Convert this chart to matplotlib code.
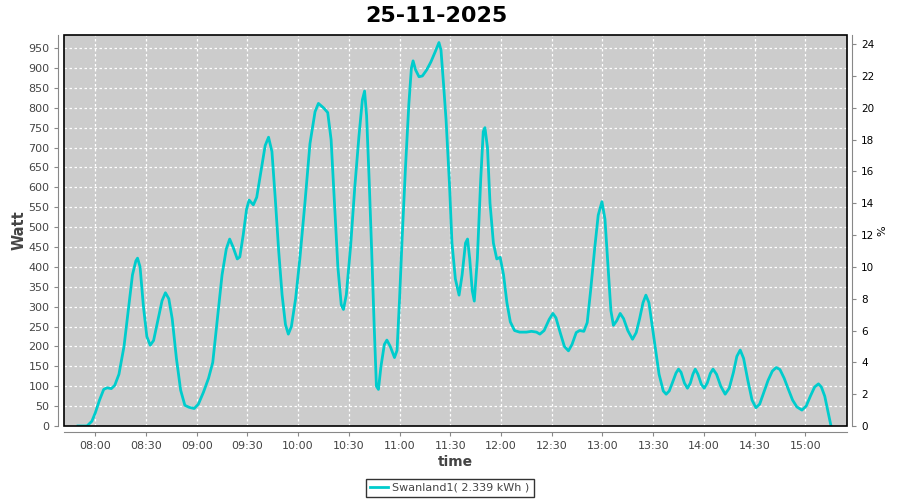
import numpy as np
import matplotlib
matplotlib.use("Agg")
import matplotlib.pyplot as plt
import matplotlib.dates as mdates
from matplotlib.patches import Rectangle

title = "25-11-2025"
series_name = "Swanland1( 2.339 kWh )"

# minutes after 08:00 and power in W
minutes = [-10.2, -4.9, -2, 0, 2.5, 5, 7, 9.5, 11.5, 14, 17, 19.5, 22, 24, 25, 26.5,
           28.5, 30.5, 32.5, 34.5, 37, 39.5, 41.5, 43.5, 45.5, 48, 50.5, 53, 55.5,
           58.5, 61, 64, 67, 69.5, 71.5, 73, 75, 77.5, 79.5, 81.5, 84, 85.5, 87.5,
           89.5, 91, 93.5, 95.5, 98, 100.5, 102.5, 104.5, 106.5, 108.5, 110.5,
           112.5, 114.2, 116, 118.5, 121, 124, 127, 130, 132, 135, 137.5, 139.5,
           141.5, 143.5, 145.5, 146.8, 148.5, 151, 153.5, 156, 158, 159.3, 160.5,
           162, 163.5, 165, 166.3, 167.5, 169, 171, 172.5, 174.5, 177, 178.5, 180,
           181.5, 183.5, 185.5, 187, 188, 189.5, 191.5, 193.5, 196, 198.5, 201,
           203.3, 204.5, 206, 207.5, 209.5, 211, 213, 215.2, 217, 219, 220.2,
           221.5, 223, 224.2, 226, 228, 229.5, 230.5, 232, 233.5, 235.5, 237.5,
           239.5, 241.5, 243.5, 245.5, 248, 251, 255, 258, 261, 263, 265.5, 268.5,
           270.7, 272.5, 275, 277.5, 279.9, 282, 284.5, 286.5, 289, 291, 293,
           295.5, 297.5, 299.7, 301.5, 303.5, 305, 306.5, 308.5, 310.5, 312.5,
           315, 317.8, 320, 322, 324, 325.7, 327.5, 329.5, 331.5, 333.5, 336,
           337.7, 339.5, 341.5, 343.5, 345, 346.5, 348.5, 350.3, 352, 353.5,
           354.9, 356.5, 358.5, 360.2, 362, 363.8, 365.4, 367.5, 370, 372.6, 375,
           377.5, 379.5, 381.5, 383.5, 386, 388.5, 390.8, 393, 395.5, 398, 400.5,
           402.8, 405, 407.5, 410, 412.5, 415, 418, 420.5, 423, 425.5, 427.8,
           429.5, 431.5, 433.5, 435.2]
watt = [0, 0, 12, 33, 65, 92, 96, 94, 102, 130, 200, 290, 380, 415, 422, 400,
        300, 225, 203, 215, 265, 315, 335, 320, 270, 170, 90, 52, 47,
        44, 55, 85, 120, 160, 240, 300, 380, 445, 470, 450, 420, 425, 480,
        545, 568, 556, 575, 640, 705, 726, 690, 570, 440, 330,
        255, 231, 250, 320, 420, 560, 710, 790, 811, 800, 788, 720,
        560, 400, 305, 293, 330, 450, 600, 730, 820, 842, 780,
        620, 440, 250, 100, 92, 150, 205, 216, 200, 172, 190, 320,
        470, 650, 810, 900, 918, 895, 878, 880, 895, 915, 940,
        964, 945, 860, 770, 610, 460, 370, 329, 380, 460, 470,
        420, 340, 314, 420, 620, 740, 750, 700, 560, 460, 420,
        424, 380, 310, 262, 240, 236, 236, 238, 236, 231, 240, 268,
        283, 272, 235, 200, 189, 205, 235, 240, 238, 260, 340,
        450, 530, 564, 520, 390, 290, 253, 265, 283, 270,
        240, 218, 235, 270, 310, 329, 310, 250, 190, 130, 88,
        80, 88, 110, 133, 143, 135, 108, 95, 108, 130,
        143, 130, 105, 95, 108, 132, 143, 130, 100, 80, 95,
        135, 175, 191, 170, 115, 65, 46, 55, 85, 115, 138,
        147, 142, 120, 92, 65, 48, 40, 50, 75, 98, 106,
        98, 75, 35, 0]

watt_ticks = np.arange(0, 951, 50)
pct_ticks = np.arange(0, 25, 2)

base = np.datetime64("2025-11-25T08:00:00")
times = base + (np.array(minutes) * 60).astype("timedelta64[s]")

grey_txt = "#444444"
axis_grey = "#888888"

fig = plt.figure(figsize=(9, 5), dpi=100)
ax = fig.add_axes([0.0711, 0.148, 0.8697, 0.782])
ax.set_facecolor("#cccccc")

ax.plot(times, watt, color="#00cccc", lw=2, zorder=3, label=series_name)

ax.set_ylim(0, 983)
ax.set_yticks(watt_ticks)
ax.set_xlim(base - np.timedelta64(1110, "s"), base + np.timedelta64(7 * 3600 + 1470, "s"))
ax.xaxis.set_major_locator(mdates.MinuteLocator(byminute=[0, 30]))
ax.xaxis.set_major_formatter(mdates.DateFormatter("%H:%M"))

ax.grid(True, color="white", ls=(0, (2, 2)), lw=0.9)
ax.set_axisbelow(True)

for s in ["top", "right"]:
    ax.spines[s].set_visible(False)
for s in ["left", "bottom"]:
    ax.spines[s].set_position(("outward", 4))
    ax.spines[s].set_color(axis_grey)
ax.tick_params(colors=axis_grey, labelcolor=grey_txt, labelsize=8, length=3)

ax.add_patch(Rectangle((0, 0), 1, 1, transform=ax.transAxes, fill=False,
                       ec="black", lw=1.2, clip_on=False, zorder=5))

ax2 = ax.twinx()
ax2.set_ylim(0, 24.58)
ax2.set_yticks(pct_ticks)
for s in ["top", "left", "bottom"]:
    ax2.spines[s].set_visible(False)
ax2.spines["right"].set_position(("outward", 4))
ax2.spines["right"].set_color(axis_grey)
ax2.tick_params(colors=axis_grey, labelcolor="black", labelsize=7.5, length=3)
ax2.set_ylabel("%", fontsize=8, color="black", labelpad=2)

ax.set_xlabel("time", fontsize=10, fontweight="bold", color=grey_txt, labelpad=3)
ax.set_ylabel("Watt", fontsize=10.5, fontweight="bold", color=grey_txt, labelpad=1)

fig.text(0.485, 0.968, title, ha="center", va="center", fontsize=16, fontweight="bold")

leg = fig.legend(*ax.get_legend_handles_labels(), loc="center", bbox_to_anchor=(0.5, 0.024),
                 fontsize=8, frameon=True, fancybox=False, edgecolor="black",
                 handlelength=1.6, handletextpad=0.4, borderpad=0.35)
leg.get_frame().set_linewidth(1)
for t in leg.get_texts():
    t.set_color(grey_txt)

fig.savefig("out.png", dpi=100)
